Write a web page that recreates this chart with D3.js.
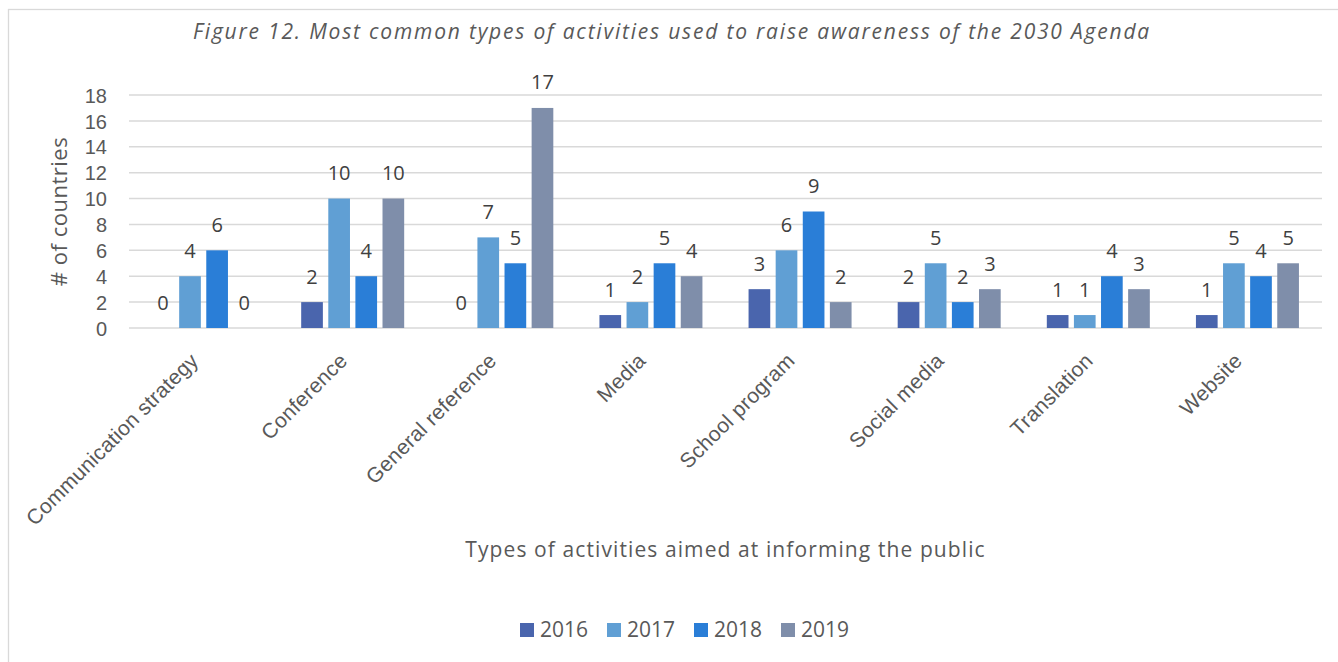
<!DOCTYPE html>
<html>
<head>
<meta charset="utf-8">
<script src="https://cdn.jsdelivr.net/npm/d3@7"></script>
<style>
  html, body { margin: 0; padding: 0; background: #fff; }
  svg { display: block; font-family: "Open Sans", sans-serif; }
</style>
</head>
<body>
<svg id="chart" width="1338" height="662"></svg>
<script>
const categories = ["Communication strategy", "Conference", "General reference", "Media", "School program", "Social media", "Translation", "Website"];
const seriesNames = ["2016", "2017", "2018", "2019"];
const values2016 = [0, 2, 0, 1, 3, 2, 1, 1];
const values2017 = [4, 10, 7, 2, 6, 5, 1, 5];
const values2018 = [6, 4, 5, 5, 9, 2, 4, 4];
const values2019 = [0, 10, 17, 4, 2, 3, 3, 5];
const seriesColors = ["#4a65ad", "#609fd4", "#2a7ed7", "#7f8eaa"];
const yTicks = [0, 2, 4, 6, 8, 10, 12, 14, 16, 18];
const titleText = "Figure 12. Most common types of activities used to raise awareness of the 2030 Agenda";
const xTitle = "Types of activities aimed at informing the public";
const yTitle = "# of countries";

const seriesValues = [values2016, values2017, values2018, values2019];
const textColor = "#595959";

const svg = d3.select("#chart");
const plotL = 129, plotR = 1322, plotT = 95, plotB = 328;

// outer border
svg.append("rect")
  .attr("x", 8.5).attr("y", 9.5)
  .attr("width", 1400).attr("height", 700)
  .attr("fill", "#fff").attr("stroke", "#d9d9d9").attr("stroke-width", 1.3);

const x0 = d3.scaleBand().domain(categories).range([plotL, plotR]).paddingInner(0).paddingOuter(0);
const groupW = 103;
const x1 = d3.scaleBand().domain(seriesNames).range([0, groupW]).paddingInner(0.2).paddingOuter(0);
const y = d3.scaleLinear().domain([0, 18]).range([plotB, plotT]);

// gridlines
svg.append("g")
  .selectAll("line").data(yTicks).join("line")
  .attr("x1", plotL).attr("x2", plotR)
  .attr("y1", d => y(d)).attr("y2", d => y(d))
  .attr("stroke", "#d9d9d9").attr("stroke-width", 1.5);

// y axis labels
const yAxis = d3.axisLeft(y).tickValues(yTicks).tickSize(0).tickPadding(0);
const yg = svg.append("g").attr("transform", `translate(${107},0)`).call(yAxis);
yg.select(".domain").remove();
yg.selectAll("text").attr("fill", textColor).style("font-size", "20px").attr("dy", "0.36em");

// bars
const data = [];
categories.forEach((c, i) => {
  seriesNames.forEach((s, j) => {
    data.push({ cat: c, series: s, value: seriesValues[j][i], color: seriesColors[j] });
  });
});

const groupOffset = (x0.bandwidth() - groupW) / 2;
svg.append("g").selectAll("rect").data(data.filter(d => d.value > 0)).join("rect")
  .attr("x", d => x0(d.cat) + groupOffset + x1(d.series))
  .attr("y", d => y(d.value))
  .attr("width", x1.bandwidth())
  .attr("height", d => y(0) - y(d.value))
  .attr("fill", d => d.color);

// value labels
svg.append("g").selectAll("text").data(data).join("text")
  .attr("x", d => x0(d.cat) + groupOffset + x1(d.series) + x1.bandwidth() / 2)
  .attr("y", d => y(d.value) - 18.5)
  .attr("text-anchor", "middle")
  .attr("fill", "#404040")
  .style("font-size", "20px")
  .text(d => d.value);

// x axis category labels
const xAxis = d3.axisBottom(x0).tickSize(0).tickPadding(0);
const xg = svg.append("g").attr("transform", `translate(0,${plotB})`).call(xAxis);
xg.select(".domain").remove();
xg.selectAll("text")
  .attr("fill", textColor)
  .style("font-size", "21px")
  .style("letter-spacing", "0.3px")
  .attr("text-anchor", "end")
  .attr("dy", null)
  .attr("y", 0)
  .attr("transform", "translate(-4,34) rotate(-45)");

// title
svg.append("text")
  .attr("x", 672).attr("y", 39)
  .attr("text-anchor", "middle")
  .attr("fill", textColor)
  .style("font-size", "21px").style("font-style", "italic")
  .style("letter-spacing", "1.8px")
  .text(titleText);

// axis titles
svg.append("text")
  .attr("x", (plotL + plotR) / 2).attr("y", 557)
  .attr("text-anchor", "middle")
  .attr("fill", textColor)
  .style("font-size", "21px")
  .style("letter-spacing", "1.1px")
  .text(xTitle);

svg.append("text")
  .attr("transform", `translate(67,${(plotT + plotB) / 2}) rotate(-90)`)
  .attr("text-anchor", "middle")
  .attr("fill", textColor)
  .style("font-size", "22px")
  .style("letter-spacing", "0.5px")
  .text(yTitle);

// legend
const legendX = 520, legendY = 630, legendStep = 87;
const lg = svg.append("g").selectAll("g").data(seriesNames).join("g")
  .attr("transform", (d, i) => `translate(${legendX + i * legendStep},${legendY})`);
lg.append("rect").attr("x", 0).attr("y", -7).attr("width", 14).attr("height", 14)
  .attr("fill", (d, i) => seriesColors[i]);
lg.append("text").attr("x", 20).attr("y", 7)
  .attr("fill", textColor).style("font-size", "21px").text(d => d);
</script>
</body>
</html>
